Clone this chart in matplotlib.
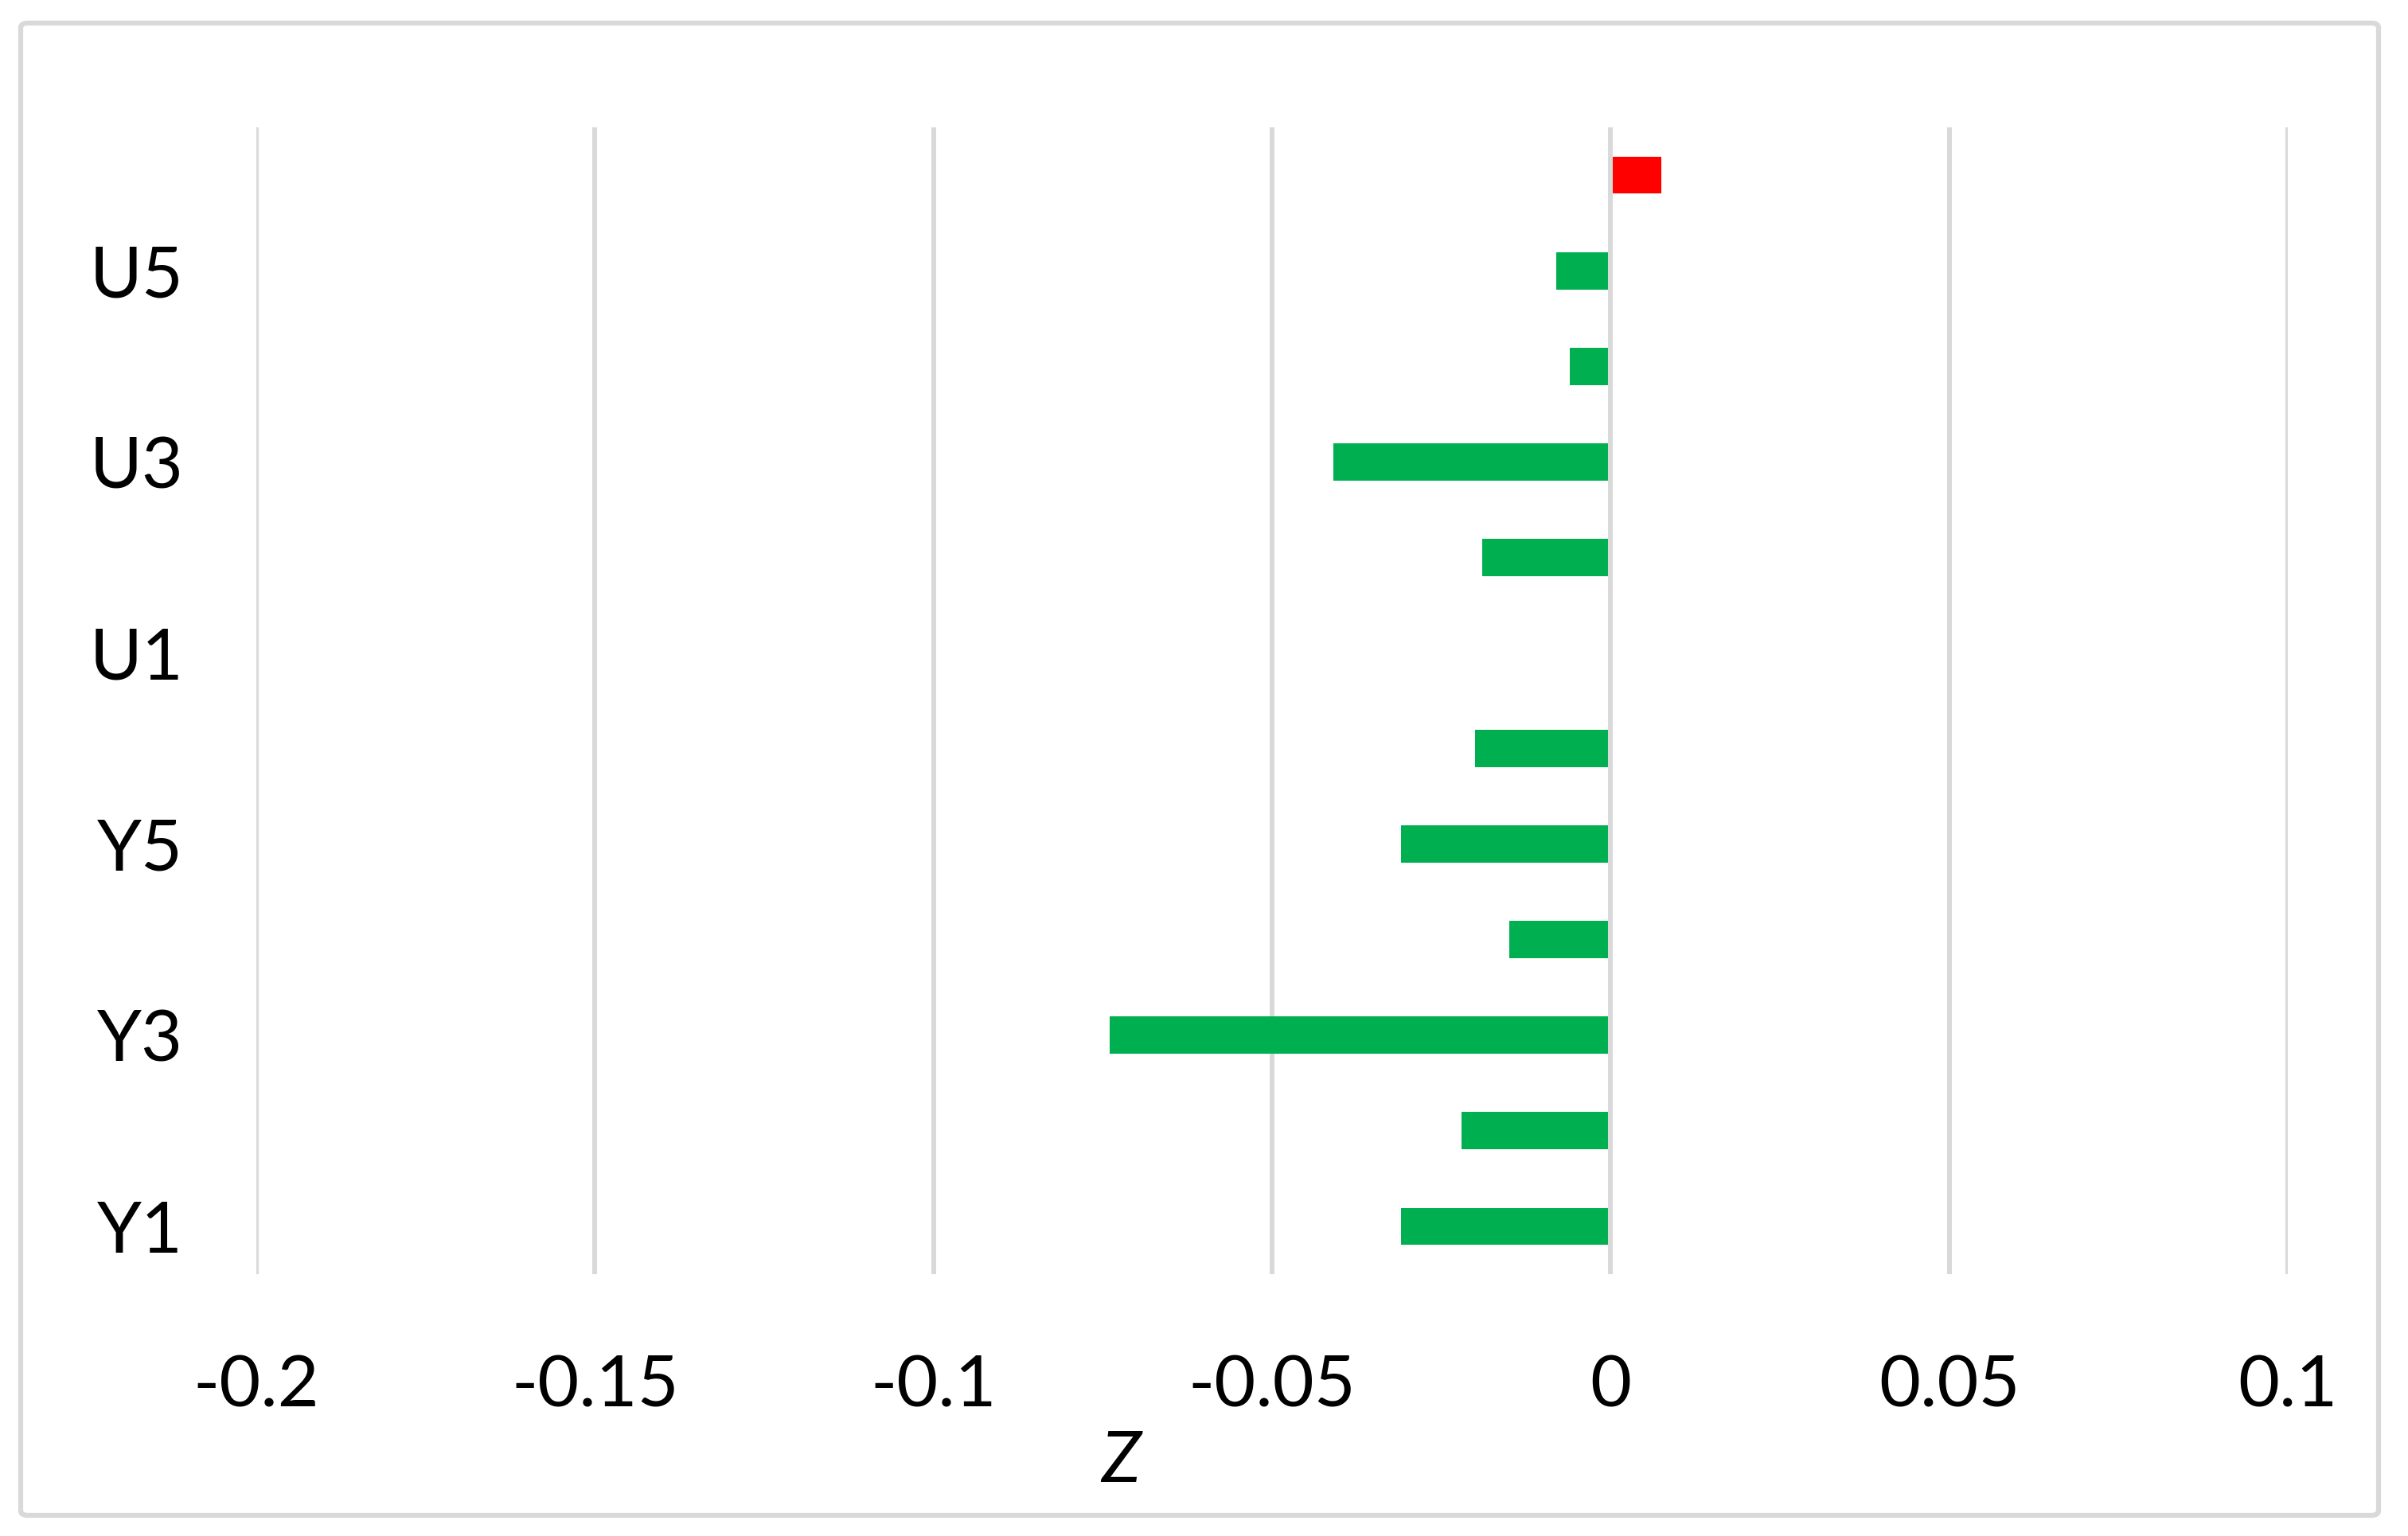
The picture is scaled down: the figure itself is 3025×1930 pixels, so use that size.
import matplotlib
matplotlib.use("Agg")
import matplotlib.pyplot as plt
from matplotlib.patches import FancyBboxPatch

categories = ["Y1", "Y2", "Y3", "Y4", "Y5", "Y6", "U1", "U2", "U3", "U4", "U5", "U6"]
values = [-0.031, -0.022, -0.074, -0.015, -0.031, -0.020, 0.0, -0.019, -0.041, -0.006, -0.008, 0.0075]
x_ticks = [-0.2, -0.15, -0.1, -0.05, 0, 0.05, 0.1]
x_tick_labels = ["-0.2", "-0.15", "-0.1", "-0.05", "0", "0.05", "0.1"]

W, H, DPI = 3025, 1930, 300
plt.rcParams['font.family'] = ['Lato', 'DejaVu Sans']

fig = plt.figure(figsize=(W / DPI, H / DPI), dpi=DPI)
ax = fig.add_axes([322 / W, 1 - 1601 / H, (2874 - 322) / W, (1601 - 160) / H])

colors = ["#FF0000" if v > 0 else "#00B050" for v in values]
ypos = list(range(len(categories)))
ax.barh(ypos, values, height=0.39, color=colors, zorder=2)

ax.set_xlim(-0.2, 0.1)
ax.set_ylim(-0.5, len(categories) - 0.5)
ax.set_xticks(x_ticks)
ax.set_xticklabels(x_tick_labels)
ax.set_yticks(ypos[::2])
ax.set_yticklabels(categories[::2])

for x in x_ticks:
    ax.axvline(x, color="#D9D9D9", lw=1.45, zorder=1 if x != 0 else 3)

for s in ax.spines.values():
    s.set_visible(False)
ax.tick_params(axis='both', length=0, labelsize=21.5, colors='black')
ax.tick_params(axis='x', pad=24)
ax.tick_params(axis='y', pad=22)

fig.text(1408 / W, 1 - 1836 / H, "Z", fontsize=21.5, style='italic', ha='center', va='center')

border = FancyBboxPatch((26 / W, 1 - 1904 / H), (2988 - 26) / W, (1904 - 29) / H,
                        boxstyle="round,pad=0,rounding_size=0.003", transform=fig.transFigure,
                        fill=False, edgecolor="#D9D9D9", lw=1.5)
fig.patches.append(border)

fig.savefig("out.png", dpi=DPI, facecolor="white")
